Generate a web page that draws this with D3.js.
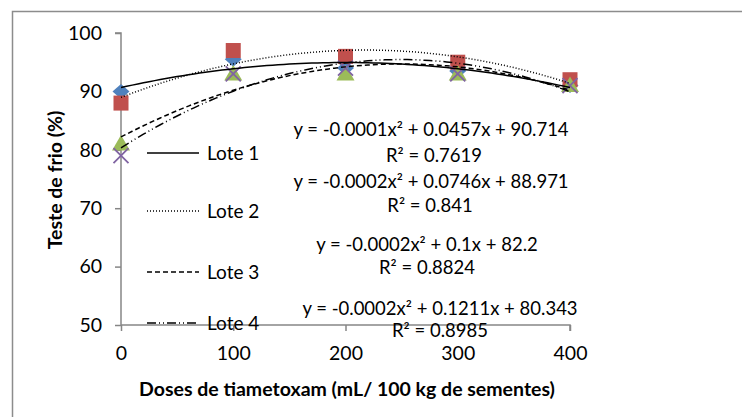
<!DOCTYPE html>
<html>
<head>
<meta charset="utf-8">
<script src="https://cdn.jsdelivr.net/npm/d3@7"></script>
<style>
  body { margin: 0; background: #fff; }
  svg { font-family: Lato, "Open Sans", sans-serif; }
</style>
</head>
<body>
<div id="canvas"></div>
<script>
// chart values
const doses = [0, 100, 200, 300, 400]
const lote1 = [90, 95.5, 94, 93.5, 91]
const lote2 = [88, 97, 96, 95, 92]
const lote3 = [81, 93, 93, 93, 91]
const lote4 = [79, 93, 94, 93, 91]
const seriesNames = ['Lote 1', 'Lote 2', 'Lote 3', 'Lote 4']
const equations = [
  'y = -0.0001x² + 0.0457x + 90.714',
  'y = -0.0002x² + 0.0746x + 88.971',
  'y = -0.0002x² + 0.1x + 82.2',
  'y = -0.0002x² + 0.1211x + 80.343'
]
const rSquared = ['R² = 0.7619', 'R² = 0.841', 'R² = 0.8824', 'R² = 0.8985']
const yTicks = [50, 60, 70, 80, 90, 100]
const xTicks = [0, 100, 200, 300, 400]

const width = 742
const height = 417
const colors = ['#4F81BD', '#C0504D', '#9BBB59', '#8064A2']
const dashes = [null, '1,2', '5,3', '9,3,1,3,1,3']

const svg = d3.select('#canvas').append('svg')
  .attr('width', width)
  .attr('height', height)

// outer chart border (runs off the picture on right and bottom)
svg.append('rect')
  .attr('x', 12.5).attr('y', 11.5)
  .attr('width', 900).attr('height', 600)
  .attr('fill', 'none').attr('stroke', '#8c8c8c').attr('stroke-width', 1.5)

const x = d3.scaleLinear().domain([0, 400]).range([121, 570])
const y = d3.scaleLinear().domain([50, 100]).range([325, 33])

// axes
const yAxis = svg.append('g')
  .attr('transform', 'translate(121,0)')
  .call(d3.axisLeft(y).tickValues(yTicks).tickSize(6).tickPadding(13))
const xAxis = svg.append('g')
  .attr('transform', 'translate(0,325)')
  .call(d3.axisBottom(x).tickValues(xTicks).tickSize(6).tickPadding(15))
;[xAxis, yAxis].forEach(ax => {
  ax.select('.domain').attr('stroke', '#868686').attr('stroke-width', 1.5)
  ax.selectAll('.tick line').attr('stroke', '#868686').attr('stroke-width', 1.5)
  ax.selectAll('.tick text').attr('fill', '#000').style('font-size', '19.5px')
    .style('font-family', 'Lato, sans-serif')
})
yAxis.select('.domain').attr('d', `M-6,${y(100)}H0V${y(50)}`)
xAxis.select('.domain').attr('d', `M${x(0)},0H${x(400)}V6`)

// markers
const allSeries = [lote1, lote2, lote3, lote4]
allSeries.forEach((vals, s) => {
  doses.forEach((d, i) => {
    const cx = x(d)
    const cy = y(vals[i])
    if (s === 0) {
      // wide diamond
      svg.append('path')
        .attr('d', `M${cx},${cy - 7.5}L${cx + 8.5},${cy}L${cx},${cy + 7.5}L${cx - 8.5},${cy}Z`)
        .attr('fill', colors[s])
    } else if (s === 1) {
      svg.append('rect')
        .attr('x', cx - 7.5).attr('y', cy - 7.5)
        .attr('width', 15).attr('height', 15)
        .attr('fill', colors[s])
    } else if (s === 2) {
      svg.append('path')
        .attr('d', `M${cx},${cy - 9}L${cx + 9},${cy + 6.5}L${cx - 9},${cy + 6.5}Z`)
        .attr('fill', colors[s])
    } else {
      svg.append('path')
        .attr('d', `M${cx - 7.5},${cy - 7.5}L${cx + 7.5},${cy + 7.5}M${cx + 7.5},${cy - 7.5}L${cx - 7.5},${cy + 7.5}`)
        .attr('stroke', colors[s]).attr('stroke-width', 1.8).attr('fill', 'none')
    }
  })
})

// quadratic least squares, like the spreadsheet trendline
function polyFit (xs, ys) {
  const S = [0, 0, 0, 0, 0]
  const T = [0, 0, 0]
  xs.forEach((xv, i) => {
    for (let k = 0; k < 5; k++) S[k] += Math.pow(xv, k)
    for (let k = 0; k < 3; k++) T[k] += Math.pow(xv, k) * ys[i]
  })
  const A = [
    [S[0], S[1], S[2], T[0]],
    [S[1], S[2], S[3], T[1]],
    [S[2], S[3], S[4], T[2]]
  ]
  for (let c = 0; c < 3; c++) {
    for (let r = c + 1; r < 3; r++) {
      const f = A[r][c] / A[c][c]
      for (let k = c; k < 4; k++) A[r][k] -= f * A[c][k]
    }
  }
  const b = [0, 0, 0]
  for (let r = 2; r >= 0; r--) {
    let s = A[r][3]
    for (let k = r + 1; k < 3; k++) s -= A[r][k] * b[k]
    b[r] = s / A[r][r]
  }
  return b
}

const line = d3.line().x(d => x(d[0])).y(d => y(d[1]))
allSeries.forEach((vals, s) => {
  const b = polyFit(doses, vals)
  const pts = d3.range(0, 401, 5).map(xv => [xv, b[0] + b[1] * xv + b[2] * xv * xv])
  svg.append('path')
    .datum(pts)
    .attr('d', line)
    .attr('fill', 'none')
    .attr('stroke', '#000')
    .attr('stroke-width', 1.5)
    .attr('stroke-dasharray', dashes[s])
})

// legend
const legendY = [153, 211, 272, 323]
seriesNames.forEach((name, s) => {
  svg.append('line')
    .attr('x1', 147).attr('x2', 199)
    .attr('y1', legendY[s]).attr('y2', legendY[s])
    .attr('stroke', '#000').attr('stroke-width', 1.5)
    .attr('stroke-dasharray', dashes[s])
  svg.append('text')
    .attr('x', 207).attr('y', legendY[s])
    .attr('dy', '0.35em')
    .style('font-size', '19px')
    .text(name)
})

// trendline labels
const eqPos = [[431, 130], [431, 182], [427, 245], [440, 309]]
const rPos = [[434, 156], [430, 206], [427, 268], [440, 331]]
equations.forEach((eq, s) => {
  svg.append('text')
    .attr('x', eqPos[s][0]).attr('y', eqPos[s][1])
    .attr('dy', '0.35em').attr('text-anchor', 'middle')
    .style('font-size', '18.5px')
    .text(eq)
  svg.append('text')
    .attr('x', rPos[s][0]).attr('y', rPos[s][1])
    .attr('dy', '0.35em').attr('text-anchor', 'middle')
    .style('font-size', '18.5px')
    .text(rSquared[s])
})

// axis titles
svg.append('text')
  .attr('transform', 'translate(55,180) rotate(-90)')
  .attr('dy', '0.35em').attr('text-anchor', 'middle')
  .style('font-size', '19.5px').style('font-weight', 'bold')
  .text('Teste de frio (%)')
svg.append('text')
  .attr('x', 347).attr('y', 389)
  .attr('dy', '0.35em').attr('text-anchor', 'middle')
  .style('font-size', '19.5px').style('font-weight', 'bold')
  .text('Doses de tiametoxam (mL/ 100 kg de sementes)')
</script>
</body>
</html>
